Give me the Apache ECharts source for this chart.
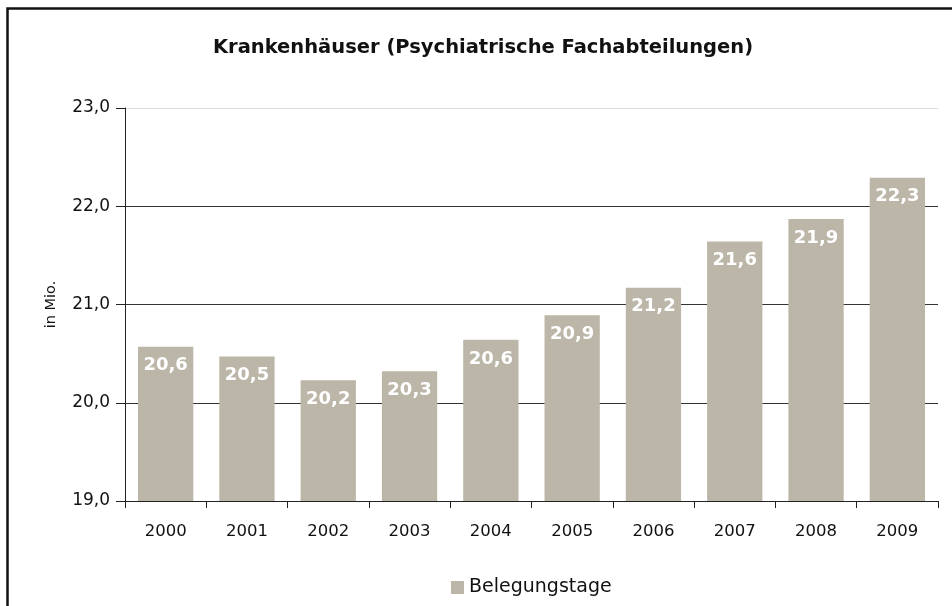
<!DOCTYPE html>
<html>
<head>
<meta charset="utf-8">
<script src="https://cdn.jsdelivr.net/npm/echarts@6/dist/echarts.min.js"></script>
<style>
html,body{margin:0;padding:0;background:#fff;}
#chart{width:952px;height:606px;}
</style>
</head>
<body>
<div id="chart"></div>
<script>
const titleText = 'Krankenhäuser (Psychiatrische Fachabteilungen)';
const seriesName = 'Belegungstage';
const years = ['2000','2001','2002','2003','2004','2005','2006','2007','2008','2009'];
const values = [20.57, 20.47, 20.23, 20.32, 20.64, 20.89, 21.17, 21.64, 21.87, 22.29];
const yMin = 19, yMax = 23, yStep = 1;

const FONT = 'DejaVu Sans';
const chart = echarts.init(document.getElementById('chart'), null, {renderer: 'canvas'});
chart.setOption({
  backgroundColor: '#fff',
  animation: false,
  textStyle: {fontFamily: FONT},
  title: {
    text: titleText,
    left: 478, textAlign: 'center', top: 33,
    textStyle: {fontFamily: FONT, fontSize: 19.5, fontWeight: 'bold', color: '#111'}
  },
  graphic: [{
    type: 'rect', z: 100, silent: true,
    shape: {x: 7.5, y: 8.5, width: 1200, height: 1200},
    style: {fill: 'none', stroke: '#111', lineWidth: 2.5}
  }],
  legend: {
    data: [seriesName],
    left: 451, top: 578, padding: 0,
    itemWidth: 13, itemHeight: 13, itemGap: 5,
    icon: 'rect',
    textStyle: {fontFamily: FONT, fontSize: 19, color: '#111'}
  },
  grid: {left: 125, right: 14, top: 108, bottom: 105, containLabel: false},
  xAxis: {
    type: 'category',
    data: years,
    axisLine: {lineStyle: {color: '#222', width: 1}},
    axisTick: {show: true, length: 7, lineStyle: {color: '#222'}},
    axisLabel: {fontFamily: FONT, fontSize: 16.5, color: '#111', margin: 22}
  },
  yAxis: {
    type: 'value',
    min: yMin, max: yMax, interval: yStep,
    name: 'in Mio.',
    nameLocation: 'middle', nameGap: 66, nameRotate: 90,
    nameTextStyle: {fontFamily: FONT, fontSize: 14.5, color: '#111'},
    axisLine: {show: true, lineStyle: {color: '#222', width: 1}},
    axisTick: {show: true, length: 9, lineStyle: {color: '#222'}},
    axisLabel: {
      fontFamily: FONT, fontSize: 17, color: '#111', margin: 15,
      formatter: v => v.toFixed(1).replace('.', ',')
    },
    splitLine: {show: true, showMinLine: true, lineStyle: {color: ['#333','#333','#333','#333','#dcdcdc'], width: 1.2}}
  },
  series: [{
    name: seriesName,
    type: 'bar',
    data: values,
    barCategoryGap: '32%',
    itemStyle: {color: '#bbb6a7'},
    label: {
      show: true, position: 'insideTop', distance: 10,
      fontFamily: FONT, fontSize: 18, fontWeight: 'bold', color: '#fff',
      formatter: p => p.value.toFixed(1).replace('.', ',')
    }
  }]
});
</script>
</body>
</html>
